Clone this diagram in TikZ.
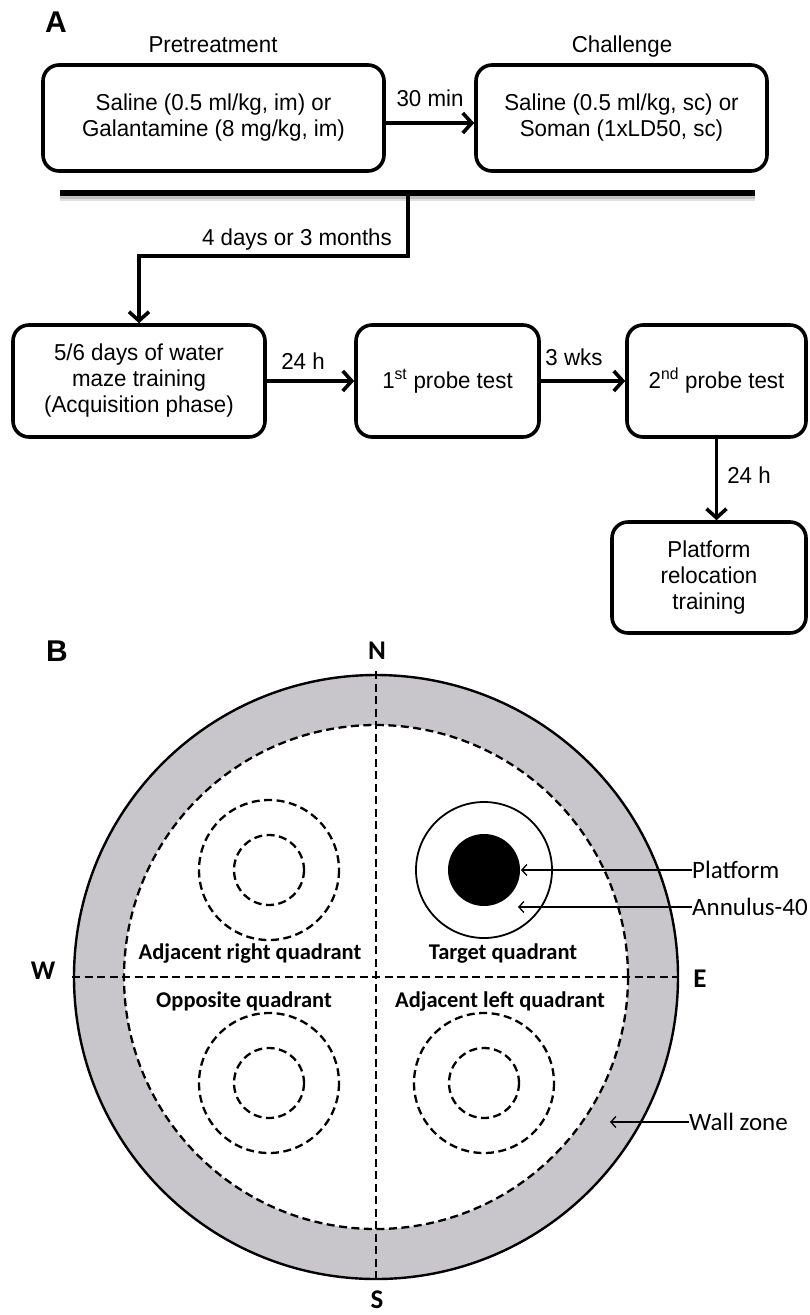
\documentclass[tikz,border=0pt]{standalone}
\usepackage{fontspec}
\setmainfont{Liberation Sans}
\newfontfamily\arialn{Liberation Sans}[FakeStretch=0.97]
\newfontfamily\calib{Carlito}
\usetikzlibrary{arrows.meta}
\definecolor{wallgray}{RGB}{200,198,202}
\begin{document}
\begin{tikzpicture}[x=1pt,y=-1pt,
  box/.style={draw, line width=3.6pt, rounded corners=16pt, inner sep=0pt, align=center,
    font=\arialn\fontsize{23}{26}\selectfont},
  flow/.style={line width=3.6pt, -{Straight Barb[length=9pt,width=20pt,line width=3.6pt]}},
  lbl/.style={font=\arialn\fontsize{23}{26}\selectfont, inner sep=0pt},
  panel/.style={font=\bfseries\fontsize{30}{30}\selectfont, inner sep=0pt},
  compass/.style={font=\calib\bfseries\fontsize{27}{27}\selectfont, inner sep=0pt},
  quad/.style={font=\calib\bfseries\fontsize{22.5}{22.5}\selectfont, inner sep=0pt},
  callout/.style={font=\calib\fontsize{25}{25}\selectfont, inner sep=0pt, anchor=west},
  pointer/.style={line width=1.3pt, -{Straight Barb[length=5pt,width=11pt,line width=1.3pt]}},
  zone/.style={line width=2.3pt, dash pattern=on 8pt off 4.5pt},
]
\useasboundingbox (0,0) rectangle (810,1315);

% ---------------- Panel A ----------------
\node[panel] (A) at (56,22) {A};
\node[lbl] (pre) at (213,45) {Pretreatment};
\node[lbl] (cha) at (622,47) {Challenge};

\node[box, minimum width=341pt, minimum height=106pt] (b1) at (213.5,118)
  {Saline (0.5 ml/kg, im) or\\Galantamine (8 mg/kg, im)};
\node[box, minimum width=291pt, minimum height=106pt] (b2) at (621.5,118)
  {Saline (0.5 ml/kg, sc) or\\Soman (1xLD50, sc)};
\draw[flow] ([yshift=-5pt]b1.east) -- node[lbl, above=14pt] (l30) {30 min} ([yshift=-5pt]b2.west);

% bar with shadow
\coordinate (barL) at (60,193);
\coordinate (barR) at (755,193);
\draw[line width=4pt, black!12] ([yshift=-6pt]barL) -- ([yshift=-6pt]barR);
\draw[line width=3pt, black!25] ([yshift=-4pt]barL) -- ([yshift=-4pt]barR);
\draw[line width=6pt] (barL) -- (barR);

\node[box, minimum width=252pt, minimum height=112pt] (b3) at (139,381)
  {5/6 days of water\\maze training\\(Acquisition phase)};
\node[box, minimum width=183pt, minimum height=112pt] (b4) at (447.5,381)
  {1\textsuperscript{st} probe test};
\node[box, minimum width=179pt, minimum height=112pt] (b5) at (716.5,381)
  {2\textsuperscript{nd} probe test};
\node[box, minimum width=194pt, minimum height=111pt] (b6) at (709,577.5)
  {Platform\\relocation\\training};

\coordinate (j) at (408,193);
\coordinate (k) at (408,256);
\draw[flow] (j) -- (k) -| (b3.north);
\node[lbl, anchor=east] (l4d) at (392,240) {4 days or 3 months};

\draw[flow] (b3) -- (b4);
\draw[flow] (b4) -- (b5);
\draw[flow] (b5.south) -- (b5.south |- b6.north);
\node[lbl] (l24a) at (303,361) {24 h};
\node[lbl] (l3w) at (574,357) {3 wks};
\node[lbl] (l24b) at (749,475) {24 h};

% ---------------- Panel B ----------------
\node[panel] (B) at (57,651) {B};
\coordinate (O) at (376,977);
\fill[wallgray] (O) circle (302);
\fill[white] (O) circle (252);
\draw[line width=2.4pt] (O) circle (302);
\draw[zone] (O) circle (252);
\draw[zone] (376,671) -- (376,1283);
\draw[zone] (72,977) -- (679,977);

\node[compass] (N) at (377,651) {N};
\node[compass] (S) at (377,1300) {S};
\node[compass] (W) at (43,971) {W};
\node[compass] (E) at (700,979) {E};

% quadrant circles
\draw[zone] (269,870) circle (70);
\draw[zone] (269,870) circle (35);
\draw[zone] (269,1083) circle (70);
\draw[zone] (269,1083) circle (35);
\draw[zone] (484,1083) circle (70);
\draw[zone] (484,1083) circle (35);
\draw[line width=1.8pt] (484,870) circle (68);
\fill (484,870) circle (36);

\node[quad] (qar) at (250,953) {Adjacent right quadrant};
\node[quad] (qt) at (503,953) {Target quadrant};
\node[quad] (qo) at (244,1001) {Opposite quadrant};
\node[quad] (qal) at (500,1001) {Adjacent left quadrant};

\node[callout] (plat) at (692,870) {Platform};
\node[callout] (ann) at (692,907) {Annulus-40};
\node[callout] (wall) at (689,1122) {Wall zone};
\coordinate (platT) at (521,870);
\coordinate (annT) at (518,907);
\coordinate (wallT) at (610,1122);
\draw[pointer] (plat.west) -- (platT);
\draw[pointer] (ann.west) -- (annT);
\draw[pointer] (wall.west) -- (wallT);
\end{tikzpicture}
\end{document}
